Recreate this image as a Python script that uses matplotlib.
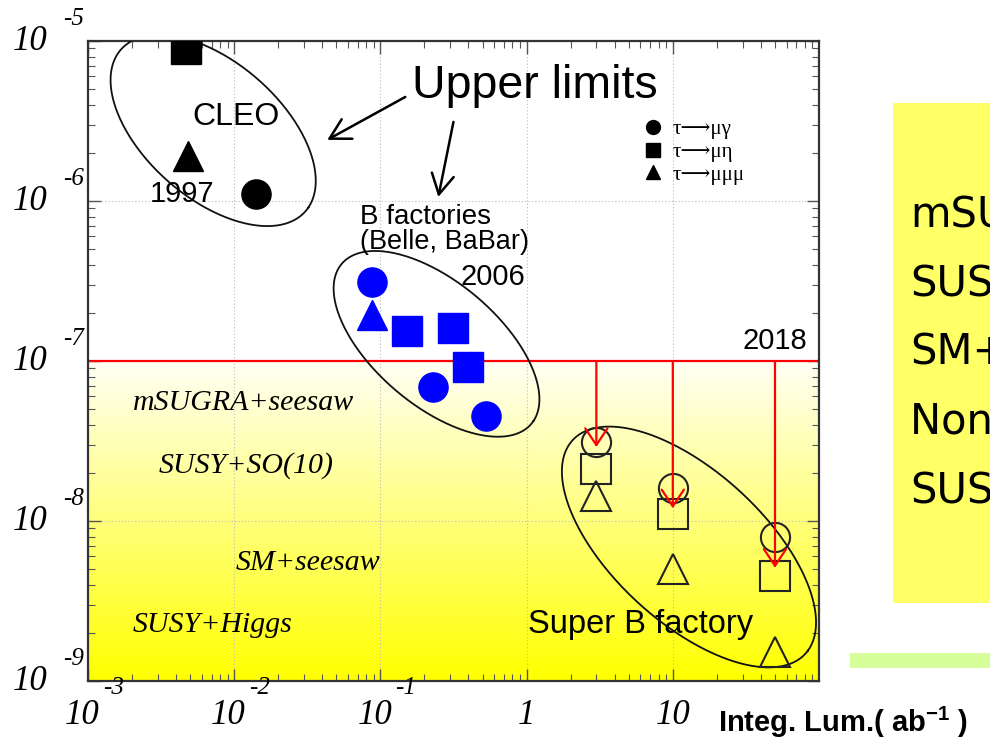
import numpy as np
import matplotlib
matplotlib.use("Agg")
import matplotlib.pyplot as plt
from matplotlib.lines import Line2D
from matplotlib.patches import Rectangle

plt.rcParams["mathtext.fontset"] = "custom"
plt.rcParams["mathtext.bf"] = "Liberation Sans:bold"
plt.rcParams["mathtext.rm"] = "Liberation Sans:bold"
plt.rcParams["mathtext.default"] = "bf"

SANS = "Liberation Sans"
SERIF = ["Liberation Serif", "DejaVu Serif", "DejaVu Sans"]

# CLEO 1997 upper limits
cleo_mug = ([0.0142], [1.1e-6])
cleo_mueta = ([0.0047], [8.9e-6])
cleo_mumumu = ([0.0048], [1.9e-6])

# B factories (Belle, BaBar) upper limits
bf_mug_lumi = [0.087, 0.23, 0.53]
bf_mug = [3.1e-7, 6.9e-8, 4.5e-8]
bf_mueta_lumi = [0.153, 0.316, 0.40]
bf_mueta = [1.54e-7, 1.61e-7, 9.2e-8]
bf_mumumu_lumi = [0.088]
bf_mumumu = [1.94e-7]

# Super B factory expectations
sb_lumi = [3.0, 10.0, 50.0]
sb_mug = [3.1e-8, 1.6e-8, 7.9e-9]
sb_mueta = [2.1e-8, 1.1e-8, 4.5e-9]
sb_mumumu = [1.43e-8, 5.0e-9, 1.52e-9]
sb_arrow_tip = [2.9e-8, 1.2e-8, 5.1e-9]
limit_2018 = 1e-7

xticks = [1e-3, 1e-2, 1e-1, 1, 10]
xtick_base = ["10", "10", "10", "1", "10"]
xtick_exp = ["-3", "-2", "-1", "", ""]
yticks = [1e-5, 1e-6, 1e-7, 1e-8, 1e-9]
ytick_exp = ["-5", "-6", "-7", "-8", "-9"]

model_labels = ["mSUGRA+seesaw", "SUSY+SO(10)", "SM+seesaw", "SUSY+Higgs"]
model_x = [2.03e-3, 3.06e-3, 1.02e-2, 2.03e-3]
model_y = [4.94e-8, 2.0e-8, 4.94e-9, 2.02e-9]

side_labels = ["mSUGRA+seesaw", "SUSY+SO(10)", "SM+seesaw", "Non-universal Z'", "SUSY+Higgs"]

# ellipses: center (x, y), semi-axes in decades, angle in log plane
ellipses = [
    (0.00718, 2.76e-6, 0.81, 0.44, -36.5),
    (0.242, 1.28e-7, 0.82, 0.40, -36.0),
    (12.9, 6.88e-9, 1.04, 0.49, -38.5),
]

fig = plt.figure(figsize=(9.9, 7.4), dpi=100)
ax = fig.add_axes([88 / 990, 59 / 740, 731 / 990, 640 / 740])
ax.set_xscale("log")
ax.set_yscale("log")
ax.set_xlim(1e-3, 1e2)
ax.set_ylim(1e-9, 1e-5)

# yellow gradient below the 2018 line
ylo, yhi = np.log10(ax.get_ylim())
frac = (np.log10(limit_2018) - ylo) / (yhi - ylo)
grad = np.linspace(0.0, 0.96, 256)[:, None]
img = np.dstack([np.ones_like(grad), np.ones_like(grad), grad])
ax.imshow(img, extent=[0, 1, 0, frac], transform=ax.transAxes,
          aspect="auto", origin="lower", zorder=0)
ax.set_xlim(1e-3, 1e2)
ax.set_ylim(1e-9, 1e-5)

ax.grid(True, which="major", color="#bbbbbb", linestyle=(0, (1, 2)), lw=0.8)
ax.tick_params(which="major", direction="in", length=9, width=1, color="#555555",
               top=True, right=True, labelbottom=False, labelleft=False)
ax.tick_params(which="minor", direction="in", length=5, width=0.8, color="#555555",
               top=True, right=True)
ax.set_xticks(xticks)
ax.set_yticks(yticks)
for s in ax.spines.values():
    s.set_linewidth(1.6)
    s.set_color("#333333")

ax.axhline(limit_2018, color="red", lw=1.6, zorder=2)

# markers
ms = 21
ax.plot(*cleo_mug, "o", color="black", ms=ms, zorder=4)
ax.plot(*cleo_mueta, "s", color="black", ms=ms, zorder=4)
ax.plot(*cleo_mumumu, "^", color="black", ms=ms, zorder=4)
ax.plot(bf_mug_lumi, bf_mug, "o", color="blue", ms=ms, ls="none", zorder=4)
ax.plot(bf_mueta_lumi, bf_mueta, "s", color="blue", ms=ms, ls="none", zorder=4)
ax.plot(bf_mumumu_lumi, bf_mumumu, "^", color="blue", ms=ms, ls="none", zorder=4)
for mk, vals in zip(["o", "s", "^"], [sb_mug, sb_mueta, sb_mumumu]):
    ax.plot(sb_lumi, vals, mk, mfc="none", mec="#222222", mew=1.5, ms=ms,
            ls="none", zorder=4)

for x, tip in zip(sb_lumi, sb_arrow_tip):
    ax.annotate("", xy=(x, tip), xytext=(x, limit_2018),
                arrowprops=dict(arrowstyle="->,head_length=0.3,head_width=0.2",
                                color="red", lw=1.6, mutation_scale=40,
                                shrinkA=0, shrinkB=0), zorder=5)

t = np.linspace(0, 2 * np.pi, 300)
for xc, yc, a, b, ang in ellipses:
    th = np.deg2rad(ang)
    lx = np.log10(xc) + a * np.cos(t) * np.cos(th) - b * np.sin(t) * np.sin(th)
    ly = np.log10(yc) + a * np.cos(t) * np.sin(th) + b * np.sin(t) * np.cos(th)
    ax.plot(10 ** lx, 10 ** ly, color="#111111", lw=1.3, zorder=3)

# labels
ax.text(0.1656, 4.40e-6, "Upper limits", fontsize=33.5, family=SANS, va="baseline")
arrow = dict(arrowstyle="->,head_length=0.36,head_width=0.2", color="black", lw=1.8,
             mutation_scale=40, shrinkA=0, shrinkB=0)
ax.annotate("", xy=(0.0433, 2.41e-6), xytext=(0.148, 4.47e-6), arrowprops=arrow)
ax.annotate("", xy=(0.249, 1.06e-6), xytext=(0.316, 3.12e-6), arrowprops=arrow)

ax.text(5.15e-3, 2.99e-6, "CLEO", fontsize=23, family=SANS, va="baseline")
ax.text(2.66e-3, 9.86e-7, "1997", fontsize=21, family=SANS, va="baseline")
ax.text(0.073, 7.2e-7, "B factories", fontsize=20, family=SANS, va="baseline")
ax.text(0.073, 5.0e-7, "(Belle, BaBar)", fontsize=19.5, family=SANS, va="baseline")
ax.text(0.353, 2.99e-7, "2006", fontsize=21, family=SANS, va="baseline")
ax.text(30.1, 1.19e-7, "2018", fontsize=21, family=SANS, va="baseline")
ax.text(1.03, 2.0e-9, "Super B factory", fontsize=23.5, family=SANS, va="baseline", zorder=2)

for lab, x, y in zip(model_labels, model_x, model_y):
    ax.text(x, y, lab, fontsize=21.5, family=SERIF, style="italic", va="baseline")

handles = [Line2D([], [], marker=m, color="black", ls="none", ms=10) for m in ["o", "s", "^"]]
ax.legend(handles, ["τ⟶μγ", "τ⟶μη", "τ⟶μμμ"], loc="upper left",
          bbox_to_anchor=(0.762, 0.877), frameon=False, handlelength=0.8,
          handletextpad=0.5, labelspacing=0.15, borderpad=0, borderaxespad=0,
          prop=dict(family=SERIF, size=15))

# tick labels
for v, base, ex in zip(xticks, xtick_base, xtick_exp):
    if ex:
        ax.annotate(base, xy=(v, 0), xycoords=("data", "axes fraction"), xytext=(8.5, -25),
                    textcoords="offset points", ha="right", va="center",
                    fontsize=25, family=SERIF, style="italic")
        ax.annotate(ex, xy=(v, 0), xycoords=("data", "axes fraction"), xytext=(10.5, -5),
                    textcoords="offset points", ha="left", va="center",
                    fontsize=18, family=SERIF, style="italic")
    else:
        ax.annotate(base, xy=(v, 0), xycoords=("data", "axes fraction"), xytext=(0, -25),
                    textcoords="offset points", ha="center", va="center",
                    fontsize=25, family=SERIF, style="italic")
for v, ex in zip(yticks, ytick_exp):
    ax.annotate("10", xy=(0, v), xycoords=("axes fraction", "data"), xytext=(-29.5, 0),
                textcoords="offset points", ha="right", va="center",
                fontsize=25, family=SERIF, style="italic")
    ax.annotate(ex, xy=(0, v), xycoords=("axes fraction", "data"), xytext=(-18, 15.8),
                textcoords="offset points", ha="left", va="center",
                fontsize=18, family=SERIF, style="italic")

fig.text(718 / 990, 8 / 740, r"Integ. Lum.( ab$^{-1}$ )", fontsize=21,
         family=SANS, weight="bold", va="baseline")

# side panel
fig.add_artist(Rectangle((893 / 990, 137 / 740), 0.2, 500 / 740, transform=fig.transFigure,
                         facecolor="#ffff66", edgecolor="none"))
fig.add_artist(Rectangle((850 / 990, 72 / 740), 0.2, 15 / 740, transform=fig.transFigure,
                         facecolor="#d6fe9a", edgecolor="none"))
for i, lab in enumerate(side_labels):
    fig.text(910 / 990, (740 - 227 - 69 * i) / 740, lab, fontsize=30,
             family="DejaVu Sans", va="baseline")

fig.savefig("out.png", dpi=100)
